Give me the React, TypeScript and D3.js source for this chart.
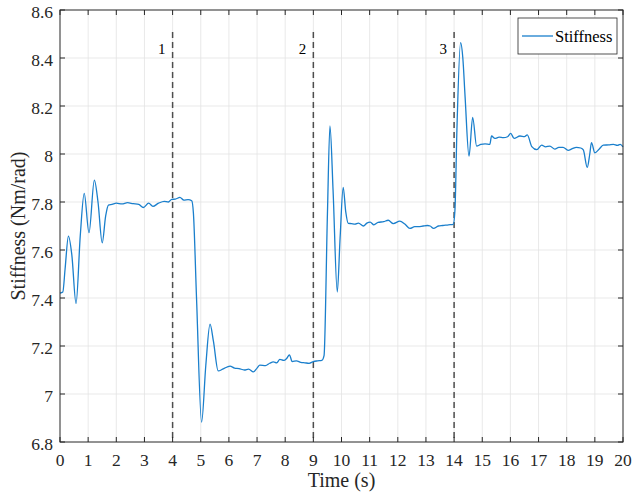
import { useEffect, useRef } from "react";
import * as d3 from "d3";

// time samples (s) and stiffness (Nm/rad)
const times = [
  0, 0.1, 0.18, 0.3, 0.42, 0.57, 0.72, 0.86, 1.03, 1.22, 1.35, 1.5, 1.62, 1.72, 1.85,
  2.0, 2.2, 2.4, 2.6, 2.8, 2.96, 3.15, 3.3, 3.5, 3.7, 3.85, 3.97, 4.1, 4.26, 4.4, 4.55,
  4.68, 4.74, 4.85, 5.03, 5.18, 5.33, 5.45, 5.62, 5.8, 6.04, 6.2, 6.36, 6.55, 6.7, 6.87,
  7.0, 7.1, 7.3, 7.45, 7.58, 7.7, 7.81, 7.95, 8.05, 8.15, 8.25, 8.4, 8.55, 8.7, 8.85,
  9.0, 9.15, 9.3, 9.38, 9.5, 9.59, 9.7, 9.85, 9.95, 10.06, 10.15, 10.24, 10.35, 10.48,
  10.6, 10.78, 10.9, 11.02, 11.15, 11.3, 11.5, 11.66, 11.84, 12.07, 12.25, 12.43, 12.6,
  12.73, 12.9, 13.05, 13.15, 13.27, 13.44, 13.6, 13.8, 13.97, 14.03, 14.1, 14.23, 14.31,
  14.39, 14.53, 14.66, 14.8, 14.95, 15.1, 15.27, 15.33, 15.45, 15.6, 15.75, 15.9, 16.01,
  16.13, 16.34, 16.5, 16.6, 16.76, 16.94, 17.11, 17.25, 17.4, 17.58, 17.72, 17.87, 18.05,
  18.2, 18.34, 18.5, 18.59, 18.73, 18.82, 18.88, 19.0, 19.15, 19.3, 19.5, 19.66, 19.8,
  19.9, 20,
];
const stiffness = [
  7.42, 7.425, 7.52, 7.658, 7.58, 7.377, 7.66, 7.836, 7.672, 7.891, 7.8, 7.63, 7.74, 7.787, 7.79,
  7.795, 7.792, 7.797, 7.793, 7.79, 7.777, 7.795, 7.782, 7.795, 7.803, 7.8, 7.811, 7.812, 7.819, 7.808, 7.81,
  7.805, 7.752, 7.4, 6.883, 7.12, 7.291, 7.22, 7.096, 7.105, 7.116, 7.108, 7.106, 7.1, 7.104, 7.092,
  7.108, 7.12, 7.118, 7.128, 7.134, 7.13, 7.144, 7.14, 7.148, 7.163, 7.135, 7.138, 7.132, 7.13, 7.128,
  7.135, 7.138, 7.14, 7.16, 7.75, 8.117, 7.85, 7.425, 7.65, 7.861, 7.76, 7.711, 7.71, 7.708,
  7.712, 7.7, 7.712, 7.716, 7.705, 7.715, 7.718, 7.724, 7.71, 7.72, 7.708, 7.69, 7.697,
  7.697, 7.7, 7.702, 7.7, 7.69, 7.7, 7.702, 7.705, 7.707, 7.766, 8.1, 8.464, 8.4,
  8.239, 7.991, 8.153, 8.033, 8.04, 8.042, 8.04, 8.075, 8.065, 8.07, 8.068, 8.072, 8.086,
  8.065, 8.075, 8.072, 8.08, 8.031, 8.018, 8.037, 8.03, 8.033, 8.02, 8.028, 8.028, 8.015,
  8.022, 8.028, 8.025, 8.017, 7.944, 8.0, 8.047, 8.005, 8.02, 8.037, 8.038, 8.04, 8.036,
  8.04, 8.03,
];
const events = [4, 9, 14];
const eventLabels = ["1", "2", "3"];
const xTicks = d3.range(0, 21, 1);
const yTicks = [6.8, 7, 7.2, 7.4, 7.6, 7.8, 8, 8.2, 8.4, 8.6];

export default function App() {
  const svgRef = useRef<SVGSVGElement>(null);

  useEffect(() => {
    const width = 633;
    const height = 497;
    const margin = { top: 10, right: 10, bottom: 55, left: 60 };
    const font = "'Liberation Serif', 'Times New Roman', serif";
    const axisColor = "#262626";
    const blue = "#1a7fcc";

    const svg = d3.select(svgRef.current).attr("width", width).attr("height", height);
    svg.selectAll("*").remove();

    const x = d3.scaleLinear().domain([0, 20]).range([margin.left, width - margin.right]);
    const y = d3.scaleLinear().domain([6.8, 8.6]).range([height - margin.bottom, margin.top]);
    const x0 = margin.left, x1 = width - margin.right;
    const y0 = height - margin.bottom, y1 = margin.top;

    svg.append("rect").attr("width", width).attr("height", height).attr("fill", "white");

    // grid
    const grid = svg.append("g").attr("stroke", "#e3e3e3").attr("stroke-width", 0.8);
    xTicks.slice(1, -1).forEach(t => {
      grid.append("line").attr("x1", x(t)).attr("x2", x(t)).attr("y1", y0).attr("y2", y1);
    });
    yTicks.slice(1, -1).forEach(v => {
      grid.append("line").attr("x1", x0).attr("x2", x1).attr("y1", y(v)).attr("y2", y(v));
    });

    // event markers
    events.forEach((t, i) => {
      svg.append("line")
        .attr("x1", x(t)).attr("x2", x(t))
        .attr("y1", 32).attr("y2", y0)
        .attr("stroke", "#4d4d4d")
        .attr("stroke-width", 1.5)
        .attr("stroke-dasharray", "6,4");
      svg.append("text")
        .attr("x", x(t) - 7)
        .attr("y", 54)
        .attr("text-anchor", "end")
        .attr("font-family", font)
        .attr("font-size", 15)
        .attr("fill", "#000")
        .text(eventLabels[i]);
    });

    // data line
    const pts = times.map((t, i) => [t, stiffness[i]] as [number, number]);
    const line = d3.line<[number, number]>()
      .x(d => x(d[0]))
      .y(d => y(d[1]))
      .curve(d3.curveMonotoneX);
    svg.append("path")
      .datum(pts)
      .attr("fill", "none")
      .attr("stroke", blue)
      .attr("stroke-width", 1.3)
      .attr("d", line);

    // box + ticks on all sides
    svg.append("rect")
      .attr("x", x0).attr("y", y1)
      .attr("width", x1 - x0).attr("height", y0 - y1)
      .attr("fill", "none")
      .attr("stroke", axisColor)
      .attr("stroke-width", 1);
    const ticks = svg.append("g").attr("stroke", axisColor).attr("stroke-width", 1);
    const tl = 5;
    xTicks.forEach(t => {
      ticks.append("line").attr("x1", x(t)).attr("x2", x(t)).attr("y1", y0).attr("y2", y0 - tl);
      ticks.append("line").attr("x1", x(t)).attr("x2", x(t)).attr("y1", y1).attr("y2", y1 + tl);
    });
    yTicks.forEach(v => {
      ticks.append("line").attr("x1", x0).attr("x2", x0 + tl).attr("y1", y(v)).attr("y2", y(v));
      ticks.append("line").attr("x1", x1).attr("x2", x1 - tl).attr("y1", y(v)).attr("y2", y(v));
    });

    // tick labels
    xTicks.forEach(t => {
      svg.append("text")
        .attr("x", x(t)).attr("y", y0 + 23.5)
        .attr("text-anchor", "middle")
        .attr("font-family", font).attr("font-size", 17.5)
        .attr("fill", axisColor)
        .text(String(t));
    });
    yTicks.forEach(v => {
      svg.append("text")
        .attr("x", x0 - 7).attr("y", y(v) + 8)
        .attr("text-anchor", "end")
        .attr("font-family", font).attr("font-size", 17.5)
        .attr("fill", axisColor)
        .text(d3.format("~g")(v));
    });

    // axis titles
    svg.append("text")
      .attr("x", (x0 + x1) / 2).attr("y", 487)
      .attr("text-anchor", "middle")
      .attr("font-family", font).attr("font-size", 20)
      .attr("fill", axisColor)
      .text("Time (s)");
    svg.append("text")
      .attr("transform", `translate(25,${(y0 + y1) / 2}) rotate(-90)`)
      .attr("text-anchor", "middle")
      .attr("font-family", font).attr("font-size", 20)
      .attr("fill", axisColor)
      .text("Stiffness (Nm/rad)");

    // legend
    const lg = svg.append("g");
    lg.append("rect")
      .attr("x", 518).attr("y", 18).attr("width", 99).attr("height", 36)
      .attr("fill", "white").attr("stroke", axisColor).attr("stroke-width", 0.8);
    lg.append("line")
      .attr("x1", 522).attr("x2", 553).attr("y1", 36).attr("y2", 36)
      .attr("stroke", blue).attr("stroke-width", 1.3);
    lg.append("text")
      .attr("x", 555).attr("y", 42)
      .attr("font-family", font).attr("font-size", 16.5)
      .attr("fill", "#000")
      .text("Stiffness");
  }, []);

  return (
    <div style={{ position: "absolute", top: 0, left: 0 }}>
      <svg ref={svgRef} style={{ display: "block" }}></svg>
    </div>
  );
}
